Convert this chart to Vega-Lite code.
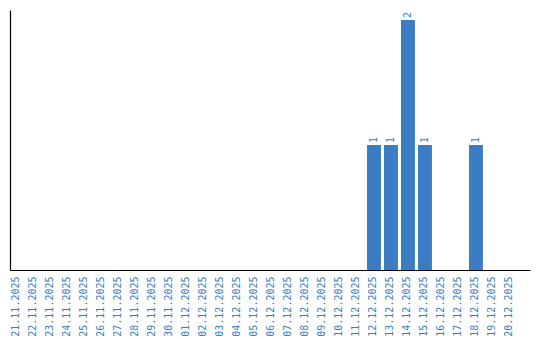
{
  "$schema": "https://vega.github.io/schema/vega-lite/v6.json",
  "width": 520,
  "height": 260,
  "padding": {"left": 10, "top": 10, "right": 10, "bottom": 70},
  "autosize": {"type": "none"},
  "background": "white",
  "config": {"view": {"stroke": null}, "font": "DejaVu Sans Mono"},
  "data": {
    "values": [
      {"date": "21.11.2025", "count": 0},
      {"date": "22.11.2025", "count": 0},
      {"date": "23.11.2025", "count": 0},
      {"date": "24.11.2025", "count": 0},
      {"date": "25.11.2025", "count": 0},
      {"date": "26.11.2025", "count": 0},
      {"date": "27.11.2025", "count": 0},
      {"date": "28.11.2025", "count": 0},
      {"date": "29.11.2025", "count": 0},
      {"date": "30.11.2025", "count": 0},
      {"date": "01.12.2025", "count": 0},
      {"date": "02.12.2025", "count": 0},
      {"date": "03.12.2025", "count": 0},
      {"date": "04.12.2025", "count": 0},
      {"date": "05.12.2025", "count": 0},
      {"date": "06.12.2025", "count": 0},
      {"date": "07.12.2025", "count": 0},
      {"date": "08.12.2025", "count": 0},
      {"date": "09.12.2025", "count": 0},
      {"date": "10.12.2025", "count": 0},
      {"date": "11.12.2025", "count": 0},
      {"date": "12.12.2025", "count": 1},
      {"date": "13.12.2025", "count": 1},
      {"date": "14.12.2025", "count": 2},
      {"date": "15.12.2025", "count": 1},
      {"date": "16.12.2025", "count": 0},
      {"date": "17.12.2025", "count": 0},
      {"date": "18.12.2025", "count": 1},
      {"date": "19.12.2025", "count": 0},
      {"date": "20.12.2025", "count": 0}
    ]
  },
  "encoding": {
    "x": {
      "field": "date",
      "type": "ordinal",
      "sort": null,
      "scale": {"paddingInner": 0.18, "paddingOuter": 0.384, "align": 0},
      "axis": {
        "title": null,
        "labelAngle": 270,
        "labelAlign": "right",
        "labelBaseline": "middle",
        "labelColor": "#3a7dc4",
        "labelFontSize": 10,
        "labelFont": "DejaVu Sans Mono",
        "labelPadding": 6,
        "labelOffset": -1,
        "ticks": false,
        "domainColor": "#000000",
        "domainWidth": 1.2,
        "zindex": 1
      }
    },
    "y": {
      "field": "count",
      "type": "quantitative",
      "scale": {"domain": [0, 2.08], "nice": false},
      "axis": {
        "title": null,
        "labels": false,
        "ticks": false,
        "grid": false,
        "domainColor": "#000000",
        "domainWidth": 1.2
      }
    }
  },
  "layer": [
    {"mark": {"type": "bar", "color": "#3b7dc4"}},
    {
      "transform": [{"filter": "datum.count > 0"}],
      "mark": {
        "type": "text",
        "angle": 270,
        "align": "left",
        "baseline": "middle",
        "dx": 2,
        "fontSize": 10,
        "font": "DejaVu Sans Mono",
        "color": "#3a7dc4"
      },
      "encoding": {"text": {"field": "count", "type": "quantitative"}}
    }
  ]
}
